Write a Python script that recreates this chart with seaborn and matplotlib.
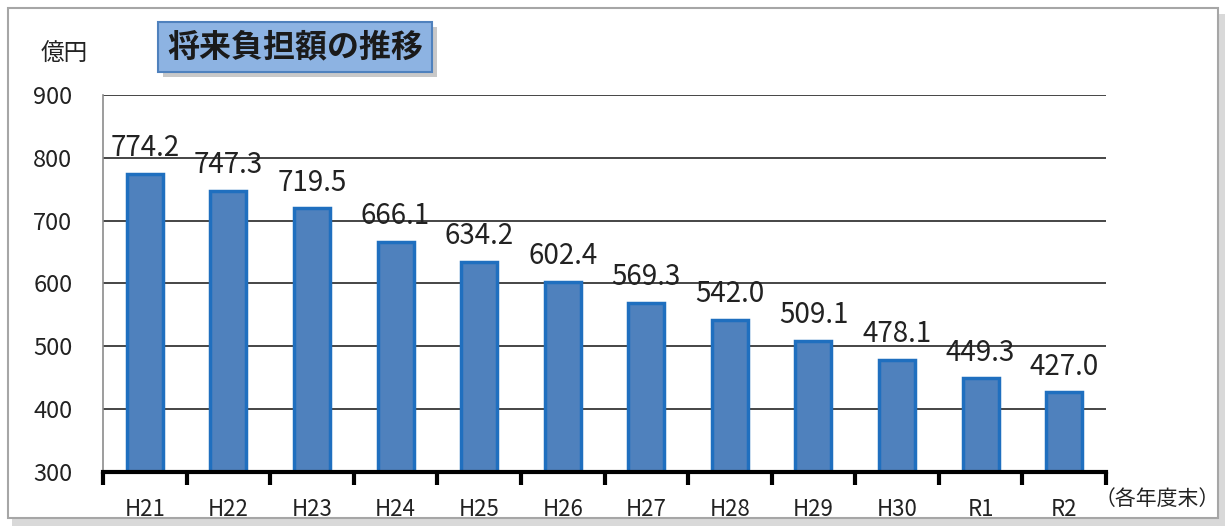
import matplotlib
matplotlib.use("Agg")
import matplotlib.pyplot as plt
from matplotlib.patches import Rectangle
from matplotlib.markers import TICKDOWN
import pandas as pd
import seaborn as sns

years = ["H21", "H22", "H23", "H24", "H25", "H26", "H27", "H28", "H29", "H30", "R1", "R2"]
burden = [774.2, 747.3, 719.5, 666.1, 634.2, 602.4, 569.3, 542.0, 509.1, 478.1, 449.3, 427.0]
y_ticks = [300, 400, 500, 600, 700, 800, 900]

sns.set_theme(style="white")
plt.rcParams["font.family"] = ["Noto Sans CJK JP", "DejaVu Sans"]

df = pd.DataFrame({"year": years, "burden": burden})

fig = plt.figure(figsize=(12.27, 5.26), dpi=100)
fig.patch.set_facecolor("white")

# outer frame with a light shadow
fig.patches.append(Rectangle((12 / 1227, 0), 1213 / 1227, 512 / 526, transform=fig.transFigure,
                             facecolor="#d9d9d9", edgecolor="none", zorder=-3))
fig.patches.append(Rectangle((8 / 1227, 8 / 526), 1210 / 1227, 510 / 526, transform=fig.transFigure,
                             facecolor="white", edgecolor="#a6a6a6", linewidth=1.5, zorder=-2))

ax = fig.add_axes([103 / 1227, 1 - 472 / 526, 1003 / 1227, 377 / 526])
ax.set_facecolor("none")
sns.barplot(data=df, x="year", y="burden", ax=ax, width=0.43,
            color="#4f81bd", saturation=1, edgecolor="#1f6fbf", linewidth=2.5, zorder=3)

ax.set_ylim(300, 900)
ax.set_yticks(y_ticks)
ax.set_xlim(-0.5, len(years) - 0.5)
ax.yaxis.grid(True, color="#262626", linewidth=1.2)
ax.set_axisbelow(True)
ax.set_xlabel("")
ax.set_ylabel("")

for side in ["top", "right"]:
    ax.spines[side].set_visible(False)
ax.spines["left"].set_color("#8c8c8c")
ax.spines["left"].set_linewidth(1.2)
ax.spines["bottom"].set_color("black")
ax.spines["bottom"].set_linewidth(3)
ax.spines["bottom"].set_zorder(5)

ax.tick_params(axis="y", length=6, width=1, color="#8c8c8c", labelsize=17, pad=16, labelcolor="#222222")
ax.tick_params(axis="x", length=0, labelsize=16, pad=19, labelcolor="#222222")
ax.set_xticks(range(len(years)))
ax.set_xticklabels(years)

# category boundary ticks on the x axis, pointing down
for i in range(len(years) + 1):
    ax.plot([i - 0.5], [300], marker=TICKDOWN, markersize=9, markeredgewidth=3,
            color="black", clip_on=False, zorder=6)

for i, v in enumerate(burden):
    ax.text(i, v + 17, f"{v:.1f}", ha="center", va="bottom", fontsize=20, color="#222222", zorder=7)

fig.text(64 / 1227, 1 - 54 / 526, "億円", ha="center", va="center", fontsize=17, color="#222222")
fig.text(1157 / 1227, 1 - 499 / 526, "（各年度末）", ha="center", va="center", fontsize=15, color="#222222")

# title box
fig.patches.append(Rectangle((163 / 1227, 1 - 77 / 526), 274 / 1227, 50 / 526, transform=fig.transFigure,
                             facecolor="#c8c8c8", edgecolor="none", zorder=2))
fig.patches.append(Rectangle((158 / 1227, 1 - 72 / 526), 274 / 1227, 50 / 526, transform=fig.transFigure,
                             facecolor="#8db3e2", edgecolor="#4f81bd", linewidth=1.5, zorder=3))
fig.text(295 / 1227, 1 - 47 / 526, "将来負担額の推移", ha="center", va="center",
         fontsize=23, fontweight="bold", color="#1a1a1a", zorder=4)

fig.savefig("out.png", dpi=100)
